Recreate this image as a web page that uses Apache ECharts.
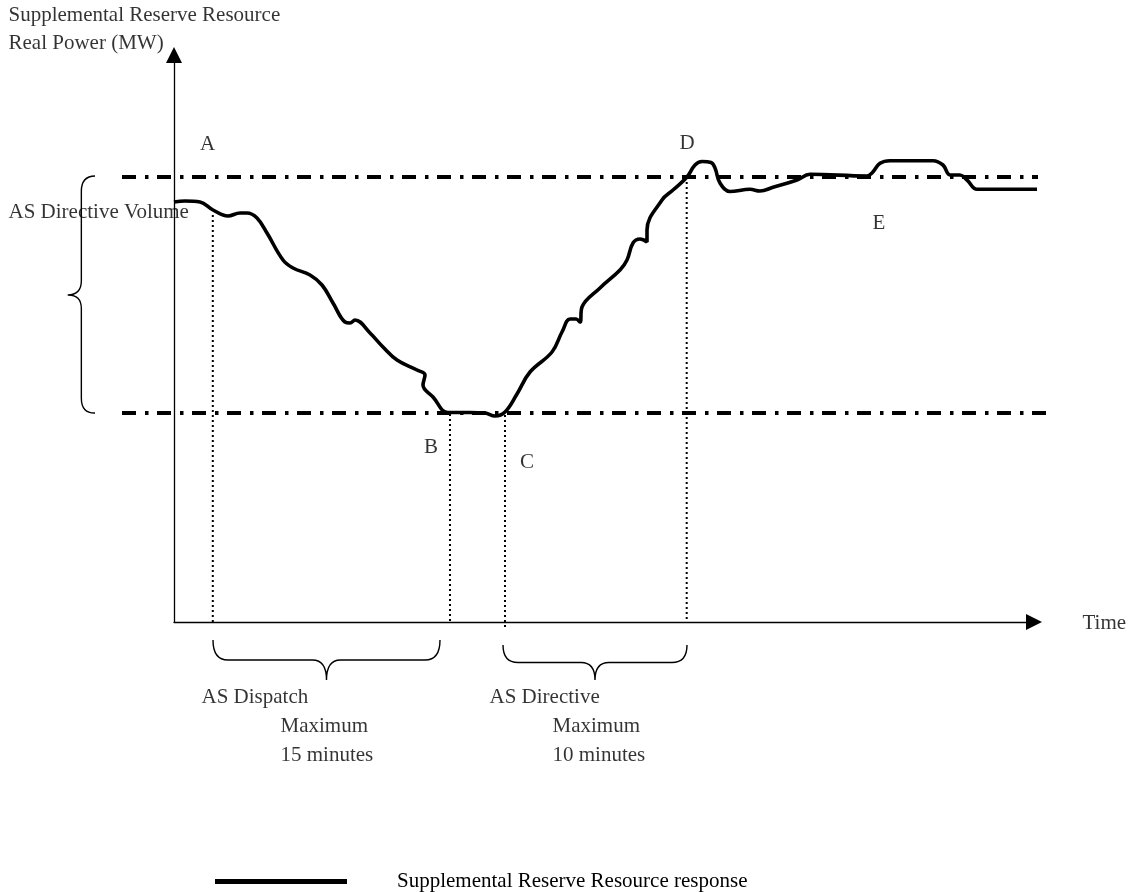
<!DOCTYPE html>
<html><head><meta charset="utf-8">
<script src="https://cdn.jsdelivr.net/npm/echarts@6/dist/echarts.min.js"></script>
<style>html,body{margin:0;padding:0;background:#fff}#c{width:1133px;height:892px}</style>
</head><body><div id="c"></div>
<script>
const FONT = "'Liberation Serif','Times New Roman',serif";
const FS = 21;
const responseName = 'Supplemental Reserve Resource response';

// Resource real power response over time (time units, MW units)
const responseCurve = [
  [0,420],[11,421],[26,420],[39,412],[54,406],[66,409],[73,409],[83,404],[93,389],[109,362],
  [119,354],[136,347],[148,337],[159,319],[171,300],[176,299],[181,302],[196,289],[209,275],
  [223,262],[243,252],[251,247],[249,237],[259,225],[274,209.5],[296,209.5],[311,209],[321,206],
  [331,210],[343,228],[356,250],[378,270],[388,290],[396,303],[402,303],[406,300],[408,315],
  [426,334],[446,352],[453,362],[459,379],[466,383],[473,380],[473,392],[488,422],[499,432],
  [513,445],[521,457],[528,460.5],[537,459.5],[541,454],[546,439],[556,430.5],[576,432.7],
  [586,431],[599,434.7],[623,442],[636,447.7],[693,446],[698,449],[706,458.7],[716,461.3],
  [759,461.3],[769,457],[776,447],[786,447],[793,442],[803,432.7],[823,432.7],[881,432.7]
];

// Reference levels (dash-dot): x1, y1, x2, y2
const levelLines = [
  [-52,445,864,445],
  [-52,209,881,209]
];

// Event markers (dotted verticals): x1, y1, x2, y2
const markerLines = [
  [38.8,407,38.8,0],
  [276,208,276,0],
  [331,207,331,-6],
  [512.7,445,512.7,0]
];

// Braces: start x,y, end x,y, tip x,y
const braceSpans = [
  [-79,446,-79,209,-106.3,327],
  [39,-18,266,-18,152.5,-58],
  [329,-23,513,-23,421,-58]
];

// Annotation texts: x, y, text
const centeredTexts = [
  [33.5,478,'A'],[513,479,'D'],[257,175,'B'],[353,160,'C'],[705,399,'E']
];
const leftTexts = [
  [-166,607,'Supplemental Reserve Resource'],
  [-166,579,'Real Power (MW)'],
  [-166,410,'AS Directive Volume'],
  [908,-1,'Time'],
  [27,-75,'AS Dispatch'],
  [106,-104,'Maximum'],
  [106,-133,'15 minutes'],
  [315,-75,'AS Directive'],
  [378,-104,'Maximum'],
  [378,-133,'10 minutes']
];

function segSeries(data, dash, width){
  return {type:'custom', data:data, clip:false, silent:true, z:2,
    renderItem:function(params, api){
      const p1 = api.coord([api.value(0), api.value(1)]);
      const p2 = api.coord([api.value(2), api.value(3)]);
      return {type:'line', shape:{x1:p1[0], y1:p1[1], x2:p2[0], y2:p2[1]},
        style:{stroke:'#000', lineWidth:width, lineDash:dash, fill:null}};
    }};
}

function braceItem(params, api){
  const a = api.coord([api.value(0), api.value(1)]);
  const b = api.coord([api.value(2), api.value(3)]);
  const tip = api.coord([api.value(4), api.value(5)]);
  const L = Math.hypot(b[0]-a[0], b[1]-a[1]);
  const t = [(b[0]-a[0])/L, (b[1]-a[1])/L];
  const m = [(a[0]+b[0])/2, (a[1]+b[1])/2];
  const d = Math.hypot(tip[0]-m[0], tip[1]-m[1]);
  const n = [(tip[0]-m[0])/d, (tip[1]-m[1])/d];
  const bb = d*0.5, r1 = 15, r2 = 14;
  const P = (base, al, out) => [base[0]+t[0]*al+n[0]*out, base[1]+t[1]*al+n[1]*out];
  const f = p => p[0].toFixed(2)+' '+p[1].toFixed(2);
  const path = 'M'+f(a)+' Q'+f(P(a,0,bb))+' '+f(P(a,r1,bb))+
    ' L'+f(P(m,-r2,bb))+' Q'+f(P(m,0,bb))+' '+f(tip)+
    ' Q'+f(P(m,0,bb))+' '+f(P(m,r2,bb))+
    ' L'+f(P(b,-r1,bb))+' Q'+f(P(b,0,bb))+' '+f(b);
  return {type:'path', shape:{pathData:path}, style:{stroke:'#000', lineWidth:1.4, fill:null}};
}

const chart = echarts.init(document.getElementById('c'), null, {renderer:'canvas'});
chart.setOption({
  backgroundColor:'#fff',
  animation:false,
  textStyle:{fontFamily:FONT},
  grid:{left:174, top:55, width:860, height:567},
  xAxis:{type:'value', min:0, max:860,
    axisLine:{show:true, onZero:false, symbol:['none','triangle'], symbolSize:[16,16], lineStyle:{color:'#000', width:1.3}},
    axisTick:{show:false}, axisLabel:{show:false}, splitLine:{show:false}},
  yAxis:{type:'value', min:0, max:567,
    axisLine:{show:true, onZero:false, symbol:['none','triangle'], symbolSize:[16,16], lineStyle:{color:'#000', width:1.3}},
    axisTick:{show:false}, axisLabel:{show:false}, splitLine:{show:false}},
  legend:{show:true, left:210, top:866, itemWidth:132, itemHeight:5, icon:'rect',
    data:[responseName],
    textStyle:{fontFamily:FONT, fontSize:FS, color:'#000', padding:[0,0,0,45]}},
  series:[
    segSeries(levelLines, [14,9,3.5,8.5], 4),
    segSeries(markerLines, [2,3], 2),
    {name:responseName, type:'line', data:responseCurve, smooth:0.4, symbol:'none', clip:false, z:5,
      lineStyle:{color:'#000', width:3.6}, itemStyle:{color:'#000'}},
    {type:'custom', data:braceSpans, renderItem:braceItem, clip:false, silent:true, z:4},
    {type:'scatter', data:centeredTexts.map(r=>({value:[r[0],r[1]], name:r[2]})), symbolSize:1, clip:false, silent:true, z:6,
      itemStyle:{color:'rgba(0,0,0,0)'},
      label:{show:true, position:'inside', formatter:'{b}', color:'#000', fontFamily:FONT, fontSize:FS}},
    {type:'scatter', data:leftTexts.map(r=>({value:[r[0],r[1]], name:r[2]})), symbolSize:1, clip:false, silent:true, z:6,
      itemStyle:{color:'rgba(0,0,0,0)'},
      label:{show:true, position:'right', distance:0, formatter:'{b}', color:'#000', fontFamily:FONT, fontSize:FS}}
  ]
});
</script></body></html>
